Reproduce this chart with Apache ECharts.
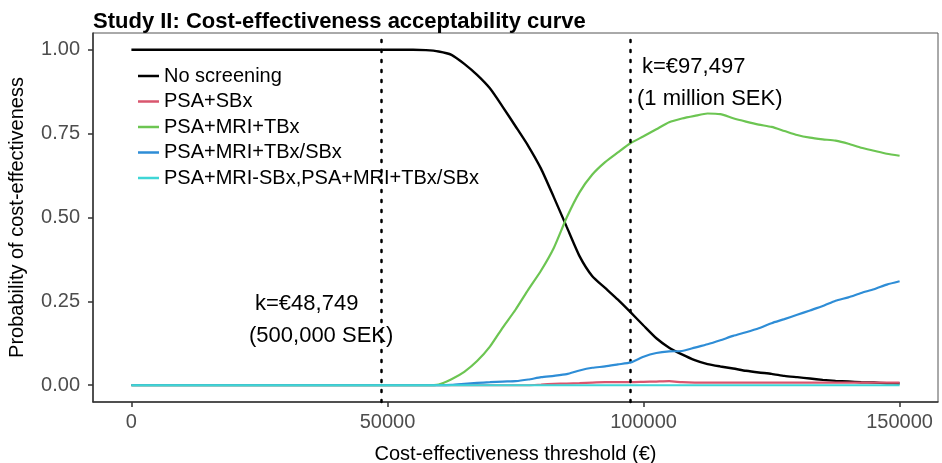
<!DOCTYPE html>
<html>
<head>
<meta charset="utf-8">
<script src="https://cdn.jsdelivr.net/npm/echarts@6/dist/echarts.min.js"></script>
<style>html,body{margin:0;padding:0;background:#fff}#c{width:942px;height:463px}</style>
</head>
<body>
<div id="c"></div>
<script>
const thresholds = [0,2500,5000,7500,10000,12500,15000,17500,20000,22500,25000,27500,30000,32500,35000,37500,40000,42500,45000,47500,50000,52500,55000,57500,60000,62500,65000,67500,70000,72500,75000,77500,80000,82500,85000,87500,90000,92500,95000,97500,100000,102500,105000,107500,110000,112500,115000,117500,120000,122500,125000,127500,130000,132500,135000,137500,140000,142500,145000,147500,150000];
const noScreening = [1,1,1,1,1,1,1,1,1,1,1,1,1,1,1,1,1,1,1,1,1,1,1,0.999,0.995,0.985,0.958,0.925,0.885,0.83,0.772,0.713,0.645,0.56,0.472,0.385,0.325,0.29,0.255,0.217,0.178,0.14,0.112,0.092,0.075,0.063,0.056,0.05,0.043,0.038,0.034,0.028,0.024,0.02,0.016,0.013,0.011,0.009,0.008,0.006,0.005];
const psaSbx = [0,0,0,0,0,0,0,0,0,0,0,0,0,0,0,0,0,0,0,0,0,0,0,0,0,0,0,0,0,0,0,0,0.002,0.004,0.005,0.006,0.008,0.009,0.009,0.009,0.01,0.011,0.012,0.009,0.008,0.008,0.008,0.008,0.008,0.008,0.008,0.008,0.008,0.008,0.008,0.008,0.008,0.008,0.008,0.008,0.008];
const psaMriTbx = [0,0,0,0,0,0,0,0,0,0,0,0,0,0,0,0,0,0,0,0,0,0,0,0,0.002,0.018,0.04,0.072,0.115,0.172,0.225,0.285,0.342,0.41,0.5,0.575,0.628,0.665,0.694,0.722,0.742,0.763,0.784,0.795,0.803,0.81,0.808,0.796,0.786,0.777,0.77,0.758,0.746,0.738,0.733,0.729,0.72,0.708,0.699,0.69,0.684];
const psaMriTbxSbx = [0,0,0,0,0,0,0,0,0,0,0,0,0,0,0,0,0,0,0,0,0,0,0,0,0,0.001,0.004,0.007,0.009,0.011,0.012,0.017,0.024,0.028,0.033,0.044,0.052,0.056,0.062,0.068,0.085,0.096,0.101,0.102,0.112,0.122,0.134,0.147,0.158,0.17,0.185,0.197,0.21,0.223,0.236,0.252,0.262,0.275,0.286,0.3,0.31];
const psaMriSbxCombo = [0,0,0,0,0,0,0,0,0,0,0,0,0,0,0,0,0,0,0,0,0,0,0,0,0,0,0,0,0,0,0,0,0,0,0,0,0,0,0,0,0,0,0,0,0,0,0,0,0,0,0,0,0,0,0,0,0,0,0,0,0];
const seriesNames = ['No screening','PSA+SBx','PSA+MRI+TBx','PSA+MRI+TBx/SBx','PSA+MRI-SBx,PSA+MRI+TBx/SBx'];
const seriesColors = ['#000000','#d9566e','#6cc552','#2e8dd6','#3fd6d6'];
const xTicks = [0,50000,100000,150000];
const yTicks = [0,0.25,0.5,0.75,1];
const kLines = [48749,97497];
const title = 'Study II: Cost-effectiveness acceptability curve';
const xTitle = 'Cost-effectiveness threshold (€)';
const yTitle = 'Probability of cost-effectiveness';

const FONT = 'Liberation Sans, Arial, sans-serif';
const dataSets = [noScreening, psaSbx, psaMriTbx, psaMriTbxSbx, psaMriSbxCombo];
const series = dataSets.map((d, i) => ({
  name: seriesNames[i],
  type: 'line',
  data: thresholds.map((t, j) => [t, d[j]]),
  showSymbol: false,
  smooth: 0.2,
  lineStyle: {color: seriesColors[i], width: i === 0 ? 2.4 : 2.2},
  itemStyle: {color: seriesColors[i]},
  z: 2 + i,
  silent: true
}));
series[0].markLine = {
  silent: true,
  symbol: 'none',
  label: {show: false},
  lineStyle: {color: '#000', type: [2, 8], width: 2.5, cap: 'round'},
  data: kLines.map(k => ({xAxis: k}))
};

const chart = echarts.init(document.getElementById('c'), null, {renderer: 'canvas'});
chart.setOption({
  animation: false,
  backgroundColor: '#fff',
  textStyle: {fontFamily: FONT},
  title: {
    text: title, left: 93, top: 11, padding: 0,
    textStyle: {fontFamily: FONT, fontSize: 22, fontWeight: 'bold', color: '#000'}
  },
  grid: {left: 93, right: 4, top: 33, bottom: 61, show: true, borderColor: '#555', borderWidth: 1, containLabel: false, outerBoundsMode: 'none'},
  legend: {
    orient: 'vertical', left: 138, top: 66, padding: 0,
    icon: 'rect', itemWidth: 21, itemHeight: 2.5, itemGap: 5.5,
    textStyle: {fontFamily: FONT, fontSize: 20, color: '#000', lineHeight: 20},
    data: seriesNames, selectedMode: false
  },
  xAxis: {
    type: 'value', min: -7500, max: 157500,
    name: xTitle, nameLocation: 'middle', nameGap: 42,
    nameTextStyle: {fontFamily: FONT, fontSize: 20, color: '#000'},
    axisLine: {show: true, onZero: false, lineStyle: {color: '#333', width: 1.5}},
    axisTick: {show: true, length: 5, lineStyle: {color: '#333', width: 1.5}, customValues: xTicks},
    axisLabel: {fontFamily: FONT, fontSize: 20, color: '#4d4d4d', margin: 10, customValues: xTicks, formatter: v => String(v)},
    splitLine: {show: false}
  },
  yAxis: {
    type: 'value', min: -0.05, max: 1.05,
    name: yTitle, nameLocation: 'middle', nameGap: 66, nameRotate: 90,
    nameTextStyle: {fontFamily: FONT, fontSize: 20, color: '#000'},
    axisLine: {show: true, onZero: false, lineStyle: {color: '#333', width: 1.5}},
    axisTick: {show: true, length: 5, lineStyle: {color: '#333', width: 1.5}, customValues: yTicks},
    axisLabel: {fontFamily: FONT, fontSize: 20, color: '#4d4d4d', margin: 13, customValues: yTicks, formatter: v => v.toFixed(2)},
    splitLine: {show: false}
  },
  graphic: [
    {type: 'text', left: 255, top: 293, style: {text: 'k=€48,749', font: '22px ' + FONT, fill: '#000'}},
    {type: 'text', left: 249, top: 325, style: {text: '(500,000 SEK)', font: '22px ' + FONT, fill: '#000'}},
    {type: 'text', left: 642, top: 56, style: {text: 'k=€97,497', font: '22px ' + FONT, fill: '#000'}},
    {type: 'text', left: 637, top: 88, style: {text: '(1 million SEK)', font: '22px ' + FONT, fill: '#000'}}
  ],
  series: series
});
</script>
</body>
</html>
